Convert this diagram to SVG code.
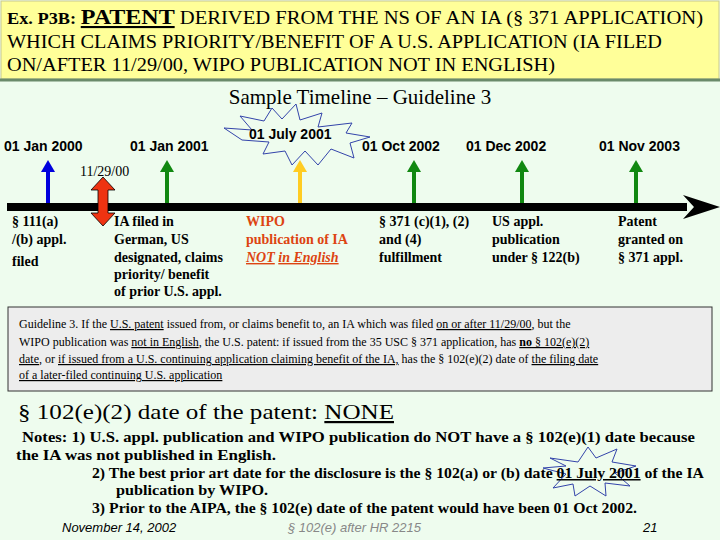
<svg xmlns="http://www.w3.org/2000/svg" width="720" height="540" viewBox="0 0 720 540">
<defs>
<style>
.t{font-family:"Liberation Serif",serif;fill:#000}
.s{font-family:"Liberation Sans",sans-serif;font-weight:bold;font-size:14px;fill:#000}
.b{font-weight:bold}
.u{text-decoration:underline}
.lb{font-family:"Liberation Serif",serif;font-weight:bold;font-size:14px}
.star{fill:none;stroke:#3344aa;stroke-width:1}
</style>
</defs>
<rect width="720" height="540" fill="#eefcee"/>
<rect x="1" y="1" width="718" height="78" fill="#ffff99" stroke="#c8c890"/>
<line x1="0" y1="80" x2="720" y2="80" stroke="#6a8a6a" stroke-width="3"/>
<g id="header" style="font-family:'Liberation Serif',serif" font-size="18">
<text x="7" y="24" textLength="696" lengthAdjust="spacingAndGlyphs" style="font-family:'Liberation Serif',serif"><tspan font-weight="bold" font-size="16">Ex. P3B: </tspan><tspan font-weight="bold" text-decoration="underline" font-size="21">PATENT</tspan> DERIVED FROM THE NS OF AN IA (§ 371 APPLICATION)</text>
<text x="7" y="48" textLength="655" lengthAdjust="spacingAndGlyphs" style="font-family:'Liberation Serif',serif">WHICH CLAIMS PRIORITY/BENEFIT OF A U.S. APPLICATION (IA FILED</text>
<text x="7" y="71" textLength="548" lengthAdjust="spacingAndGlyphs" style="font-family:'Liberation Serif',serif">ON/AFTER 11/29/00, WIPO PUBLICATION  NOT IN ENGLISH)</text>
</g>
<text class="t" x="360" y="104" font-size="21" text-anchor="middle">Sample Timeline – Guideline 3</text>
<g id="star1"><polygon class="star" points="224,128 252,130 240,116 264,121 272,108 282,119 296,104 300,120 322,113 318,127 352,123 346,133 370,137 350,143 354,158 331,149 318,165 305,151 292,165 285,151 263,154 269,142 242,140"/></g>
<g id="connectors">
<rect x="7" y="203" width="680" height="8" fill="#000"/>
<polygon points="683,195 720,207 683,219 694,207" fill="#000"/>
<line x1="48" y1="203" x2="48" y2="170" stroke="#0000dd" stroke-width="4"/><polygon points="41,172 48,160 55,172" fill="#0000dd"/>
<line x1="167" y1="203" x2="167" y2="170" stroke="#118811" stroke-width="4"/><polygon points="160,172 167,160 174,172" fill="#118811"/>
<line x1="300" y1="203" x2="300" y2="170" stroke="#ffcc22" stroke-width="4"/><polygon points="293,172 300,160 307,172" fill="#ffcc22"/>
<line x1="414" y1="203" x2="414" y2="170" stroke="#118811" stroke-width="4"/><polygon points="407,172 414,160 421,172" fill="#118811"/>
<line x1="522" y1="203" x2="522" y2="170" stroke="#118811" stroke-width="4"/><polygon points="515,172 522,160 529,172" fill="#118811"/>
<line x1="636" y1="203" x2="636" y2="170" stroke="#118811" stroke-width="4"/><polygon points="629,172 636,160 643,172" fill="#118811"/>
<polygon points="103,177 115,190 108,190 108,213 115,213 103,226 91,213 98,213 98,190 91,190" fill="#ee3311" stroke="#000" stroke-width="0.8"/>
</g>
<text class="s" x="4" y="151">01 Jan 2000</text>
<text class="s" x="130" y="151">01 Jan 2001</text>
<text class="s" x="249" y="139">01 July 2001</text>
<text class="s" x="362" y="151">01 Oct 2002</text>
<text class="s" x="466" y="151">01 Dec 2002</text>
<text class="s" x="599" y="151">01 Nov 2003</text>
<text class="t" x="80" y="176" font-size="14">11/29/00</text>
<g id="n1"><text class="lb"><tspan x="12" y="226">§ 111(a)</tspan><tspan x="12" y="244">/(b) appl.</tspan><tspan x="12" y="266">filed</tspan></text></g>
<g id="n2"><text class="lb"><tspan x="114" y="226">IA filed in</tspan><tspan x="114" y="244">German, US</tspan><tspan x="114" y="262">designated, claims</tspan><tspan x="114" y="279">priority/  benefit</tspan><tspan x="114" y="296">of prior U.S. appl.</tspan></text></g>
<g id="n3"><text class="lb" fill="#dd4411"><tspan x="246" y="226">WIPO</tspan><tspan x="246" y="244">publication of IA</tspan><tspan x="246" y="262" font-style="italic" class="u">NOT</tspan><tspan font-style="italic"> </tspan><tspan font-style="italic" class="u">in English</tspan></text></g>
<g id="n4"><text class="lb"><tspan x="379" y="226">§ 371 (c)(1), (2)</tspan><tspan x="379" y="244">and (4)</tspan><tspan x="379" y="262">fulfillment</tspan></text></g>
<g id="n5"><text class="lb"><tspan x="492" y="226">US appl.</tspan><tspan x="492" y="244">publication</tspan><tspan x="492" y="262">under § 122(b)</tspan></text></g>
<g id="n6"><text class="lb"><tspan x="618" y="226">Patent</tspan><tspan x="618" y="244">granted on</tspan><tspan x="618" y="262">§ 371 appl.</tspan></text></g>
<g id="guide">
<rect x="8" y="307" width="704" height="84" fill="#ededed" stroke="#333" stroke-width="1"/>
<text class="t" font-size="12"><tspan x="19" y="328">Guideline 3. If the <tspan class="u">U.S. patent</tspan> issued from, or claims benefit to, an IA which was filed <tspan class="u">on or after 11/29/00</tspan>, but the</tspan><tspan x="19" y="346">WIPO publication was <tspan class="u">not in English</tspan>, the U.S. patent:  if issued from the 35 USC § 371 application, has <tspan class="u"><tspan class="b">no</tspan> § 102(e)(2)</tspan></tspan><tspan x="19" y="363"><tspan class="u">date</tspan>, or <tspan class="u">if issued from a U.S. continuing application claiming benefit of the IA,</tspan> has the § 102(e)(2) date of <tspan class="u">the filing date</tspan></tspan><tspan x="19" y="379" class="u">of a later-filed continuing U.S. application</tspan></text>
</g>
<text class="t" x="18" y="419" font-size="22" textLength="376" lengthAdjust="spacingAndGlyphs">§ 102(e)(2) date of the patent: <tspan class="u">NONE</tspan></text>
<g id="star2"><polygon class="star" points="550,458 578,462 588,447 596,458 617,449 612,462 636,466 615,473 630,486 605,483 606,496 590,486 575,496 573,484 553,488 566,474 543,468 566,466"/></g>
<g id="notes" style="font-family:'Liberation Serif',serif;font-weight:bold" font-size="15">
<text x="22" y="442" textLength="673" lengthAdjust="spacingAndGlyphs">Notes: 1) U.S. appl. publication and WIPO publication do NOT have a § 102(e)(1) date because</text>
<text x="16" y="460" textLength="260" lengthAdjust="spacingAndGlyphs">the IA was not published in English.</text>
<text x="92" y="478" textLength="612" lengthAdjust="spacingAndGlyphs">2) The best prior art date for the disclosure is the § 102(a) or (b) date <tspan text-decoration="underline">01 July 2001</tspan> of the IA</text>
<text x="116" y="495" textLength="152" lengthAdjust="spacingAndGlyphs">publication by WIPO.</text>
<text x="92" y="513" textLength="545" lengthAdjust="spacingAndGlyphs">3)  Prior to the AIPA, the § 102(e) date of the patent would have been 01 Oct 2002.</text>
</g>
<text x="62" y="532" font-family="Liberation Sans,sans-serif" font-size="13" font-style="italic">November 14, 2002</text>
<text x="288" y="532" font-family="Liberation Sans,sans-serif" font-size="13" font-style="italic" fill="#888">§ 102(e) after HR 2215</text>
<text x="643" y="532" font-family="Liberation Sans,sans-serif" font-size="13" font-style="italic">21</text>
</svg>
